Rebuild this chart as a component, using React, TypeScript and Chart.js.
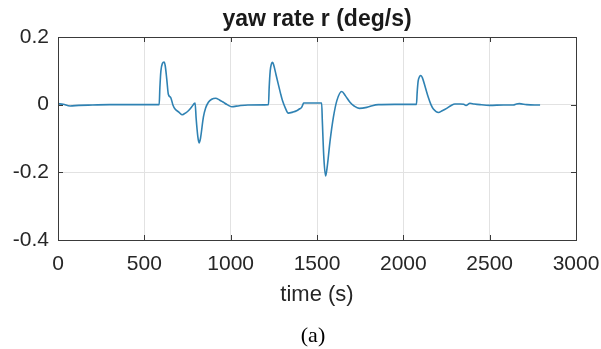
import React, { useEffect, useRef } from "react";
import { Chart, registerables } from "chart.js";

Chart.register(...registerables);

const titleText = "yaw rate r (deg/s)";
const xTitle = "time (s)";
const caption = "(a)";

const timeS: number[] = [
  0, 30, 70, 120, 200, 300, 586,
  590, 596, 605, 614, 621, 630, 639, 653, 665, 678, 700, 720, 740, 755, 775, 790, 794,
  800, 810, 817, 825, 842, 855, 871, 890, 913, 935, 958, 980, 1006, 1050, 1100, 1219,
  1223, 1229, 1236, 1243, 1250, 1262, 1275, 1288, 1300, 1315, 1334, 1360, 1382, 1400, 1411, 1418, 1422, 1527,
  1531, 1540, 1550, 1560, 1575, 1595, 1615, 1643, 1665, 1691, 1715, 1745, 1788, 1820, 1855, 1950, 2076,
  2080, 2086, 2094, 2102, 2110, 2128, 2145, 2160, 2174, 2203, 2225, 2251, 2275, 2299, 2330, 2350,
  2363, 2386, 2410, 2444, 2502, 2580, 2637, 2655, 2672, 2714, 2760, 2792,
];

const yawRate: number[] = [
  0.003, 0.001, -0.004, -0.002, -0.001, 0, 0,
  0.05, 0.1, 0.122, 0.126, 0.115, 0.075, 0.031, 0.021, 0.0, -0.013, -0.022, -0.03, -0.024, -0.018, -0.006, 0.004, 0.005,
  -0.04, -0.095, -0.113, -0.1, -0.037, -0.01, 0.007, 0.016, 0.019, 0.014, 0.007, 0.0, -0.006, -0.003, -0.001, 0,
  0.05, 0.1, 0.12, 0.125, 0.116, 0.09, 0.062, 0.035, 0.012, -0.008, -0.025, -0.022, -0.018, -0.012, -0.008, 0.0, 0.005, 0.005,
  -0.05, -0.16, -0.211, -0.18, -0.11, -0.037, 0.012, 0.039, 0.026, 0.007, -0.004, -0.011, -0.008, -0.003, 0, 0.001, 0.001,
  0.035, 0.07, 0.083, 0.086, 0.08, 0.05, 0.021, 0.0, -0.013, -0.023, -0.018, -0.011, -0.003, 0.002, 0.002, 0.001,
  -0.002, 0.004, 0.002, 0, -0.002, -0.001, -0.001, 0.002, 0.003, 0, -0.001, -0.001,
];

const xTicks: number[] = [0, 500, 1000, 1500, 2000, 2500, 3000];
const yTicks: number[] = [-0.4, -0.2, 0, 0.2];

const SANS = "'Liberation Sans', Arial, Helvetica, sans-serif";
const SERIF = "'Liberation Serif', 'Times New Roman', serif";

const framePlugin = {
  id: "matlabFrame",
  afterDraw(chart: any) {
    const { ctx, chartArea } = chart;
    const { left, right, top, bottom } = chartArea;
    const xs = chart.scales.x;
    const ys = chart.scales.y;
    ctx.save();
    ctx.strokeStyle = "#3a3a3a";
    ctx.lineWidth = 1;
    ctx.beginPath();
    const tl = 5;
    for (const v of xTicks) {
      const px = Math.round(xs.getPixelForValue(v)) + 0.5;
      ctx.moveTo(px, bottom);
      ctx.lineTo(px, bottom - tl);
      ctx.moveTo(px, top);
      ctx.lineTo(px, top + tl);
    }
    for (const v of yTicks) {
      const py = Math.round(ys.getPixelForValue(v)) + 0.5;
      ctx.moveTo(left, py);
      ctx.lineTo(left + tl, py);
      ctx.moveTo(right, py);
      ctx.lineTo(right - tl, py);
    }
    ctx.stroke();
    ctx.strokeRect(Math.round(left) + 0.5, Math.round(top) + 0.5, Math.round(right - left), Math.round(bottom - top));

    const cx = (left + right) / 2;
    ctx.fillStyle = "#1a1a1a";
    ctx.textAlign = "center";
    ctx.textBaseline = "middle";
    ctx.font = `bold 23px ${SANS}`;
    ctx.fillText(titleText, cx, 20);
    ctx.font = `22px ${SANS}`;
    ctx.fillStyle = "#262626";
    ctx.fillText(xTitle, cx, 295);
    ctx.font = `22px ${SERIF}`;
    ctx.fillStyle = "#000000";
    ctx.fillText(caption, cx - 4, 336);
    ctx.restore();
  },
};

export default function App() {
  const ref = useRef<HTMLCanvasElement | null>(null);
  useEffect(() => {
    if (!ref.current) return;
    const points = timeS.map((t, i) => ({ x: t, y: yawRate[i] }));
    const chart = new Chart(ref.current, {
      type: "line",
      data: {
        datasets: [
          {
            data: points,
            borderColor: "#2f82b3",
            borderWidth: 1.6,
            pointRadius: 0,
            cubicInterpolationMode: "monotone",
            fill: false,
          },
        ],
      },
      options: {
        animation: false,
        responsive: false,
        maintainAspectRatio: false,
        layout: { padding: { left: 0, right: 25, top: 37, bottom: 0 } },
        plugins: {
          legend: { display: false },
          tooltip: { enabled: false },
          title: { display: false },
        },
        scales: {
          x: {
            type: "linear",
            min: 0,
            max: 3000,
            afterBuildTicks: (axis: any) => {
              axis.ticks = xTicks.map((v) => ({ value: v }));
            },
            afterFit: (axis: any) => {
              axis.height = 109;
              axis.paddingLeft = 0;
              axis.paddingRight = 0;
            },
            grid: { color: "#e2e2e2", lineWidth: 1, drawTicks: false },
            border: { display: false },
            ticks: {
              color: "#262626",
              font: { family: SANS, size: 21 },
              padding: 12,
              maxRotation: 0,
              callback: (v: any) => String(v),
            },
          },
          y: {
            type: "linear",
            min: -0.4,
            max: 0.2,
            afterBuildTicks: (axis: any) => {
              axis.ticks = yTicks.map((v) => ({ value: v }));
            },
            afterFit: (axis: any) => {
              axis.width = 58;
              axis.paddingTop = 0;
              axis.paddingBottom = 0;
            },
            grid: { color: "#e2e2e2", lineWidth: 1, drawTicks: false },
            border: { display: false },
            ticks: {
              color: "#262626",
              font: { family: SANS, size: 21 },
              padding: 9,
              callback: (v: any) => (Math.abs(v) < 1e-9 ? "0" : String(Math.round(v * 10) / 10)),
            },
          },
        },
      },
      plugins: [framePlugin],
    });
    return () => chart.destroy();
  }, []);
  return (
    <div style={{ position: "fixed", left: 0, top: 0, width: 601, height: 349, background: "#ffffff" }}>
      <canvas ref={ref} width={601} height={349} style={{ width: 601, height: 349, display: "block" }} />
    </div>
  );
}
